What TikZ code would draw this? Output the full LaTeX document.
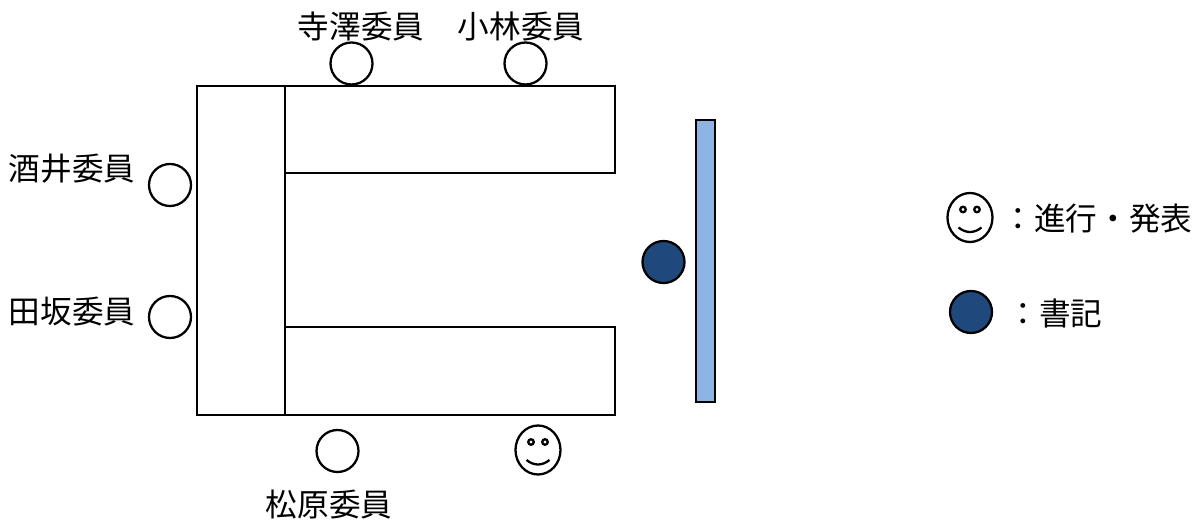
\documentclass[tikz,border=0pt]{standalone}
\usepackage{fontspec}
\setmainfont{Noto Sans CJK JP}
\usetikzlibrary{shapes.geometric}
\definecolor{clerkblue}{HTML}{1F497D}
\definecolor{screenblue}{HTML}{8EB4E3}
\tikzset{
    seat/.style={draw, circle, line width=.65pt, minimum size=.42cm, inner sep=0pt},
    clerk/.style={seat, fill=clerkblue},
    desk/.style={draw, line width=.65pt, inner sep=0pt},
    member/.style={inner sep=0pt, font=\fontsize{9pt}{9pt}\selectfont},
    smileface/.style={draw, ellipse, line width=.65pt, minimum width=.45cm, minimum height=.49cm, inner sep=0pt},
    smileeye/.style={draw, circle, line width=.65pt, minimum size=.055cm, inner sep=0pt},
}
\newcommand{\smiley}[2]{
    \node [smileface] (#2) at (#1) {};
    \node [smileeye] (#2 left) at ([shift={(-.07, .08)}]#2.center) {};
    \node [smileeye] (#2 right) at ([shift={(.07, .08)}]#2.center) {};
    \draw[line width=.65pt] ([shift={(-.115, -.1)}]#2.center) .. controls ([shift={(-.04, -.16)}]#2.center) and ([shift={(.04, -.16)}]#2.center) .. ([shift={(.115, -.1)}]#2.center);
}

\begin{document}
\begin{tikzpicture}
    \useasboundingbox (0, 0) rectangle (12, 5.25);
    % desks
    \node [desk, minimum width=.88cm, minimum height=3.29cm] (desk left) at (2.41, 2.745) {};
    \node [desk, minimum width=3.3cm, minimum height=.87cm] (desk up) at (4.5, 3.955) {};
    \node [desk, minimum width=3.3cm, minimum height=.88cm] (desk dn) at (4.5, 1.54) {};
    \node [desk, fill=screenblue, minimum width=.19cm, minimum height=2.82cm] (screen) at (7.055, 2.64) {};
    % members
    \foreach \name/\x/\y in {terasawa/3.515/4.615, kobayashi/5.255/4.615, sakai/1.70/3.40, tasaka/1.70/2.08, matsubara/3.375/.74} {
        \node [seat] (seat \name) at (\x, \y) {};
    }
    \foreach \name/\text/\x/\y in {terasawa/寺澤委員/3.61/4.99, kobayashi/小林委員/5.21/4.99, sakai/酒井委員/.72/3.56, tasaka/田坂委員/.72/2.13, matsubara/松原委員/3.29/.2} {
        \node [member] (label \name) at (\x, \y) {\text};
    }
    \smiley{5.38, .75}{presenter}
    \node [clerk] (clerk seat) at (6.635, 2.63) {};
    % legend
    \smiley{9.70, 3.075}{legend smile}
    \node [clerk] (legend clerk) at (9.71, 2.13) {};
    \node [member, anchor=west] (legend smile text) at (10.02, 3.06) {：進行・発表};
    \node [member, anchor=west] (legend clerk text) at (10.07, 2.12) {：書記};
\end{tikzpicture}
\end{document}
